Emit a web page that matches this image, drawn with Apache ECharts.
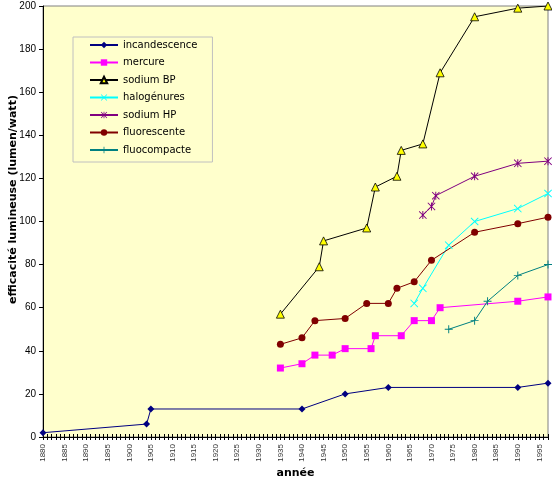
<!DOCTYPE html>
<html>
<head>
<meta charset="utf-8">
<script src="https://cdn.jsdelivr.net/npm/echarts@6/dist/echarts.min.js"></script>
<style>
html,body{margin:0;padding:0;background:#fff;}
#chart{width:552px;height:481px;}
</style>
</head>
<body>
<div id="chart"></div>
<script>
// ---- data ----
var incYears = [1880, 1904, 1905, 1940, 1950, 1960, 1990, 1997];
var incVals  = [2, 6, 13, 13, 20, 23, 23, 25];

var merYears = [1935, 1940, 1943, 1947, 1950, 1956, 1957, 1963, 1966, 1970, 1972, 1990, 1997];
var merVals  = [32, 34, 38, 38, 41, 41, 47, 47, 54, 54, 60, 63, 65];

var sbpYears = [1935, 1944, 1945, 1955, 1957, 1962, 1963, 1968, 1972, 1980, 1990, 1997];
var sbpVals  = [57, 79, 91, 97, 116, 121, 133, 136, 169, 195, 199, 200];

var halYears = [1966, 1968, 1974, 1980, 1990, 1997];
var halVals  = [62, 69, 89, 100, 106, 113];

var shpYears = [1968, 1970, 1971, 1980, 1990, 1997];
var shpVals  = [103, 107, 112, 121, 127, 128];

var fluYears = [1935, 1940, 1943, 1950, 1955, 1960, 1962, 1966, 1970, 1980, 1990, 1997];
var fluVals  = [43, 46, 54, 55, 62, 62, 69, 72, 82, 95, 99, 102];

var fcYears = [1974, 1980, 1983, 1990, 1997];
var fcVals  = [50, 54, 63, 75, 80];

var seriesNames = ['incandescence', 'mercure', 'sodium BP', 'halogénures', 'sodium HP', 'fluorescente', 'fluocompacte'];
var xTitle = 'année';
var yTitle = 'efficacité lumineuse (lumen/watt)';

function zip(xs, ys) { return xs.map(function (x, i) { return [x, ys[i]]; }); }

var X_PATH = 'path://M0,0.8 L0.8,0 L5,4.2 L9.2,0 L10,0.8 L5.8,5 L10,9.2 L9.2,10 L5,5.8 L0.8,10 L0,9.2 L4.2,5 Z';
var AST_PATH = 'path://M0,0.8 L0.8,0 L5,4.2 L9.2,0 L10,0.8 L5.8,5 L10,9.2 L9.2,10 L5,5.8 L0.8,10 L0,9.2 L4.2,5 Z M4.4,0 H5.6 V10 H4.4 Z';
var PLUS_PATH = 'path://M4.4,0 H5.6 V4.4 H10 V5.6 H5.6 V10 H4.4 V5.6 H0 V4.4 H4.4 Z';

function mk(name, data, lineColor, symbol, size, fill, border) {
  return {
    name: name, type: 'line', data: data, xAxisIndex: 0,
    symbol: symbol, symbolSize: size, showAllSymbol: true,
    lineStyle: { color: lineColor, width: 1 },
    itemStyle: { color: fill, borderColor: border || fill, borderWidth: border ? 0.8 : 0 },
    emphasis: { disabled: true }
  };
}

var chart = echarts.init(document.getElementById('chart'));
var axisFont = 'Liberation Sans, Arial, sans-serif';
var titleFont = 'DejaVu Sans, Verdana, sans-serif';
chart.setOption({
  animation: false,
  backgroundColor: '#ffffff',
  textStyle: { fontFamily: axisFont },
  grid: {
    left: 43, right: 4, top: 6, bottom: 44,
    containLabel: false, outerBoundsMode: 'none',
    show: true, backgroundColor: '#FFFFCC', borderColor: '#808080', borderWidth: 1
  },
  legend: {
    orient: 'vertical', left: 73, top: 37,
    padding: [2, 15, 6, 16], itemGap: 5.5, itemWidth: 28, itemHeight: 8,
    backgroundColor: '#FFFFCC', borderColor: '#c0c0c0', borderWidth: 1,
    textStyle: { fontFamily: 'DejaVu Sans, sans-serif', fontSize: 10, color: '#000', lineHeight: 12 },
    data: seriesNames
  },
  xAxis: [{
    type: 'value', min: 1880, max: 1997, interval: 1,
    name: xTitle, nameLocation: 'middle', nameGap: 31, nameMoveOverlap: false,
    nameTextStyle: { fontWeight: 'bold', fontSize: 11, color: '#000', fontFamily: titleFont },
    axisLine: { show: true, lineStyle: { color: '#000', width: 1 } },
    axisTick: { show: true, length: 3, lineStyle: { color: '#000' } },
    axisLabel: {
      rotate: 90, fontSize: 8, color: '#333', margin: 7,
      formatter: function (v) { return v % 5 === 0 ? String(v) : ''; }
    },
    splitLine: { show: false }
  }, {
    type: 'value', min: 1880, max: 1997, interval: 1, position: 'bottom',
    axisLine: { show: false },
    axisTick: { show: true, inside: true, length: 3, lineStyle: { color: '#000' } },
    axisLabel: { show: false },
    splitLine: { show: false }
  }],
  yAxis: {
    type: 'value', min: 0, max: 200, interval: 20,
    name: yTitle, nameLocation: 'middle', nameGap: 24, nameRotate: 90, nameMoveOverlap: false,
    nameTextStyle: { fontWeight: 'bold', fontSize: 11, color: '#000', fontFamily: titleFont, padding: [0, 0, 0, 44] },
    axisLine: { show: true, lineStyle: { color: '#000', width: 1 } },
    axisTick: { show: true, length: 4, lineStyle: { color: '#000' } },
    axisLabel: { fontSize: 10, color: '#000', margin: 7 },
    splitLine: { show: false }
  },
  series: [
    mk(seriesNames[0], zip(incYears, incVals), '#000080', 'diamond', 7, '#000080'),
    mk(seriesNames[1], zip(merYears, merVals), '#FF00FF', 'rect', 7, '#FF00FF'),
    mk(seriesNames[2], zip(sbpYears, sbpVals), '#000000', 'triangle', 8, '#FFFF00', '#000000'),
    mk(seriesNames[3], zip(halYears, halVals), '#00FFFF', X_PATH, 8, '#00FFFF'),
    mk(seriesNames[4], zip(shpYears, shpVals), '#800080', AST_PATH, 8, '#800080'),
    mk(seriesNames[5], zip(fluYears, fluVals), '#800000', 'circle', 7, '#800000'),
    mk(seriesNames[6], zip(fcYears, fcVals), '#008080', PLUS_PATH, 8, '#008080')
  ]
});
</script>
</body>
</html>
